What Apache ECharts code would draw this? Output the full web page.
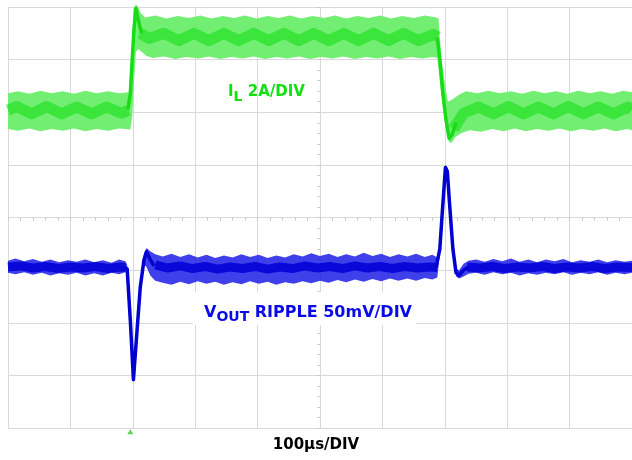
<!DOCTYPE html>
<html>
<head>
<meta charset="utf-8">
<script src="https://cdn.jsdelivr.net/npm/echarts@6/dist/echarts.min.js"></script>
<style>
  html, body { margin: 0; padding: 0; background: #fff; }
  #chart { width: 632px; height: 460px; }
</style>
</head>
<body>
<div id="chart"></div>
<script>
  // time in µs (100µs/DIV), vertical in scope divisions (0..8)

  // IL trace: ripple envelope
  var ilUpper = [[0,6.36],[16,6.4],[34,6.35],[52,6.41],[70,6.36],[88,6.4],[106,6.35],[124,6.41],[142,6.36],[160,6.4],[178,6.36],[194,6.38],
    [196,6.6],[199,7.3],[202,7.95],[205,8.05],[208,8.0],[213,7.88],[220,7.8],
    [236,7.84],[254,7.78],[272,7.83],[290,7.79],[308,7.84],[326,7.78],[344,7.83],[362,7.79],[380,7.84],[398,7.78],[416,7.83],[434,7.79],
    [452,7.84],[470,7.78],[488,7.83],[506,7.79],[524,7.84],[542,7.78],[560,7.83],[578,7.79],[596,7.84],[614,7.78],[632,7.83],[650,7.79],
    [668,7.84],[686,7.8],[690,7.78],[692,7.4],[695,7.0],[700,6.55],[705,6.2],[712,6.24],[722,6.33],[734,6.4],
    [752,6.36],[770,6.41],[788,6.36],[806,6.4],[824,6.35],[842,6.41],[860,6.36],[878,6.4],[896,6.35],[914,6.41],[932,6.36],[950,6.4],
    [968,6.35],[986,6.41],[1000,6.38]];
  var ilLower = [[0,5.68],[16,5.65],[34,5.69],[52,5.64],[70,5.68],[88,5.65],[106,5.69],[124,5.64],[142,5.68],[160,5.65],[178,5.69],[196,5.67],
    [199,5.9],[202,6.6],[205,7.15],[209,7.2],[214,7.15],[222,7.07],[232,7.03],
    [250,7.06],[268,7.01],[286,7.05],[304,7.02],[322,7.06],[340,7.01],[358,7.05],[376,7.02],[394,7.06],[412,7.01],[430,7.05],[448,7.02],
    [466,7.06],[484,7.01],[502,7.05],[520,7.02],[538,7.06],[556,7.01],[574,7.05],[592,7.02],[610,7.06],[628,7.01],[646,7.05],[664,7.02],
    [682,7.05],[688,7.03],[692,6.6],[697,6.1],[702,5.7],[707,5.43],[711,5.42],[716,5.52],[726,5.6],[740,5.66],
    [758,5.63],[776,5.68],[794,5.64],[812,5.69],[830,5.64],[848,5.68],[866,5.65],[884,5.69],[902,5.64],[920,5.68],[938,5.65],[956,5.69],
    [974,5.64],[992,5.68],[1000,5.66]];
  // IL dense core (beat pattern), broken at the load steps
  var ilCore = [[0,6.04],[14,6.11],[38,5.97],[62,6.11],[86,5.97],[110,6.1],[134,5.97],[158,6.1],[182,5.98],[193,6.04],[194,'-'],
    [212,7.5],[226,7.4],[250,7.5],[274,7.36],[298,7.5],[322,7.36],[346,7.5],[370,7.36],[394,7.5],[418,7.36],[442,7.5],[466,7.36],
    [490,7.5],[514,7.36],[538,7.5],[562,7.36],[586,7.5],[610,7.36],[634,7.5],[658,7.36],[682,7.48],[689,7.43],[690,'-'],
    [714,5.68],[730,5.98],[754,6.1],[778,5.97],[802,6.11],[826,5.97],[850,6.1],[874,5.97],[898,6.11],[922,5.97],[946,6.1],[970,5.97],
    [994,6.1],[1000,6.05]];
  var ilEdge = [[192,6.05],[196,6.35],[199,7.0],[202,7.6],[205,7.98],[208,7.8],[214,7.5],[215,'-'],
    [688,7.42],[692,7.0],[697,6.35],[702,5.85],[707,5.5],[712,5.58],[718,5.8]];

  // VOUT ripple trace: noise envelope
  var vUpper = [[0,3.18],[12,3.22],[26,3.17],[40,3.21],[54,3.16],[68,3.2],[82,3.15],[96,3.19],[110,3.16],[124,3.2],[138,3.15],[152,3.19],
    [166,3.14],[178,3.2],[188,3.17],
    [191,3.1],[196,2.2],[201,1.0],[206,1.85],[212,2.8],[218,3.32],[222,3.42],[228,3.36],[236,3.3],
    [248,3.26],[262,3.31],[276,3.25],[290,3.3],[304,3.24],[318,3.29],[332,3.23],[346,3.28],[360,3.24],[374,3.3],[388,3.25],[402,3.29],
    [416,3.23],[430,3.28],[444,3.24],[458,3.3],[472,3.26],[486,3.32],[500,3.27],[514,3.31],[528,3.25],[542,3.3],[556,3.26],[570,3.33],
    [584,3.27],[598,3.31],[612,3.25],[626,3.3],[640,3.26],[654,3.31],[668,3.25],[680,3.29],[688,3.24],
    [692,3.5],[696,4.2],[701,5.0],[704,4.95],[708,4.3],[713,3.5],[718,3.02],[723,3.0],[730,3.12],[738,3.18],
    [750,3.2],[764,3.16],[778,3.21],[792,3.17],[806,3.22],[820,3.16],[834,3.2],[848,3.15],[862,3.2],[876,3.17],[890,3.21],[904,3.15],
    [918,3.19],[932,3.16],[946,3.2],[960,3.15],[974,3.19],[988,3.16],[1000,3.18]];
  var vLower = [[0,2.95],[12,2.92],[26,2.96],[40,2.91],[54,2.95],[68,2.9],[82,2.94],[96,2.91],[110,2.95],[124,2.9],[138,2.94],[152,2.9],
    [166,2.95],[178,2.92],[188,2.96],
    [191,2.95],[196,1.95],[201,0.86],[206,1.6],[212,2.55],[218,3.1],[222,3.06],[228,2.9],[236,2.8],
    [248,2.76],[262,2.72],[276,2.78],[290,2.73],[304,2.79],[318,2.74],[332,2.78],[346,2.72],[360,2.77],[374,2.73],[388,2.79],[402,2.74],
    [416,2.78],[430,2.72],[444,2.77],[458,2.74],[472,2.79],[486,2.75],[500,2.8],[514,2.76],[528,2.81],[542,2.77],[556,2.82],[570,2.78],
    [584,2.83],[598,2.79],[612,2.84],[626,2.8],[640,2.84],[654,2.8],[668,2.85],[680,2.82],[688,2.86],
    [692,3.3],[696,4.0],[701,4.85],[704,4.8],[708,4.1],[713,3.3],[718,2.88],[723,2.84],[730,2.88],[738,2.93],
    [750,2.95],[764,2.91],[778,2.96],[792,2.92],[806,2.95],[820,2.9],[834,2.94],[848,2.91],[862,2.95],[876,2.92],[890,2.96],[904,2.91],
    [918,2.95],[932,2.92],[946,2.96],[960,2.91],[974,2.95],[988,2.92],[1000,2.95]];
  var vCore = [[0,3.06],[20,3.08],[40,3.04],[60,3.07],[80,3.03],[100,3.06],[120,3.04],[140,3.07],[160,3.03],[180,3.06],[188,3.05],[189,'-'],
    [236,3.1],[256,3.04],[276,3.08],[296,3.03],[316,3.07],[336,3.02],[356,3.06],[376,3.03],[396,3.07],[416,3.02],[436,3.06],[456,3.03],
    [476,3.08],[496,3.04],[516,3.07],[536,3.03],[556,3.08],[576,3.04],[596,3.07],[616,3.03],[636,3.07],[656,3.04],[676,3.06],[688,3.05],[689,'-'],
    [736,3.06],[756,3.04],[776,3.07],[796,3.03],[816,3.06],[836,3.04],[856,3.07],[876,3.03],[896,3.06],[916,3.04],[936,3.07],[956,3.03],
    [976,3.06],[1000,3.05]];
  var vTrace = [[186,3.06],[191,3.02],[196,2.05],[201,0.92],[206,1.72],[212,2.68],[218,3.2],[222,3.35],[228,3.2],[234,3.08],[235,'-'],
    [686,3.05],[692,3.4],[696,4.1],[701,4.95],[704,4.88],[708,4.2],[713,3.4],[718,2.95],[723,2.9],[730,3.0],[738,3.06]];

  var triggerMark = [[196,-0.07]];

  var chart = echarts.init(document.getElementById('chart'), null, { renderer: 'canvas' });

  function band(upper, lower, fill) {
    return {
      type: 'custom',
      silent: true,
      data: [[0, 0]],
      renderItem: function (params, api) {
        var pts = upper.map(function (p) { return api.coord(p); })
          .concat(lower.slice().reverse().map(function (p) { return api.coord(p); }));
        return { type: 'polygon', shape: { points: pts }, style: { fill: fill } };
      }
    };
  }

  function trace(data, color, width) {
    return {
      type: 'line', data: data, symbol: 'none', silent: true, clip: false,
      connectNulls: false,
      lineStyle: { color: color, width: width, cap: 'butt', join: 'round' }
    };
  }

  var gridColor = '#d9d9d9';

  var option = {
    animation: false,
    grid: { left: 8, top: 7, width: 625, height: 421 },
    xAxis: [
      {
        type: 'value', min: 0, max: 1000, interval: 100,
        axisLine: { show: false }, axisTick: { show: false }, axisLabel: { show: false },
        splitLine: { show: true, lineStyle: { color: gridColor, width: 1 } }
      },
      {
        type: 'value', min: 0, max: 1000, interval: 20, position: 'bottom', offset: -210.5,
        axisLine: { show: false }, axisLabel: { show: false }, splitLine: { show: false },
        axisTick: { show: true, length: 3, lineStyle: { color: '#c8c8c8' } }
      }
    ],
    yAxis: [
      {
        type: 'value', min: 0, max: 8, interval: 1,
        axisLine: { show: false }, axisTick: { show: false }, axisLabel: { show: false },
        splitLine: { show: true, lineStyle: { color: gridColor, width: 1 } }
      },
      {
        type: 'value', min: 0, max: 8, interval: 0.2, position: 'left', offset: -312.5,
        axisLine: { show: false }, axisLabel: { show: false }, splitLine: { show: false },
        axisTick: { show: true, length: 3, lineStyle: { color: '#c8c8c8' } }
      }
    ],
    graphic: [
      {
        type: 'rect', left: 193, top: 292, z: 10,
        shape: { width: 223, height: 33 }, style: { fill: '#fff' }
      },
      {
        type: 'text', left: 228, top: 85, z: 11,
        style: {
          text: '{m|I}{s|L}{m| 2A/DIV}',
          rich: {
            m: { fontFamily: 'DejaVu Sans', fontWeight: 'bold', fontSize: 15, fill: '#12e012' },
            s: { fontFamily: 'DejaVu Sans', fontWeight: 'bold', fontSize: 14, fill: '#12e012', padding: [9, 0, 0, 0] }
          }
        }
      },
      {
        type: 'text', left: 204, top: 305, z: 11,
        style: {
          text: '{m|V}{s|OUT}{m| RIPPLE 50mV/DIV}',
          rich: {
            m: { fontFamily: 'DejaVu Sans', fontWeight: 'bold', fontSize: 16, fill: '#0a0ae6' },
            s: { fontFamily: 'DejaVu Sans', fontWeight: 'bold', fontSize: 14, fill: '#0a0ae6', padding: [9, 0, 0, 0] }
          }
        }
      },
      {
        type: 'text', left: 'center', top: 438, z: 11,
        style: {
          text: '100µs/DIV', fontFamily: 'DejaVu Sans', fontWeight: 'bold', fontSize: 15, fill: '#000'
        }
      }
    ],
    series: [
      band(ilUpper, ilLower, '#72ef72'),
      trace(ilCore, 'rgba(24,222,24,0.6)', 11),
      trace(ilEdge, '#18dc18', 3.5),
      band(vUpper, vLower, 'rgba(30,30,232,0.85)'),
      trace(vCore, 'rgba(0,0,214,0.85)', 9),
      trace(vTrace, '#0000d0', 3.5),
      {
        type: 'scatter', data: triggerMark, symbol: 'triangle', symbolSize: [6, 5], clip: false, silent: true,
        itemStyle: { color: '#2ccc2c' }
      }
    ]
  };

  chart.setOption(option);
</script>
</body>
</html>
